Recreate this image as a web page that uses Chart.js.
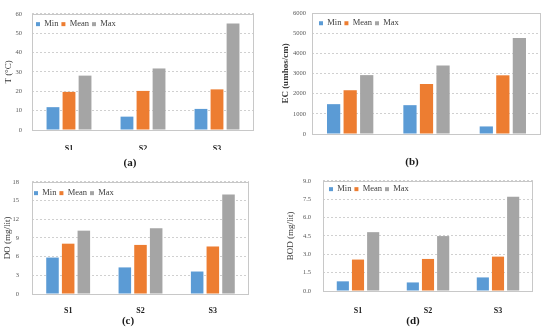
<!DOCTYPE html>
<html>
<head>
<meta charset="utf-8">
<script src="https://cdn.jsdelivr.net/npm/chart.js@4.4.1/dist/chart.umd.min.js"></script>
<style>
  body { margin: 0; background: #fff; width: 550px; height: 330px; position: relative; overflow: hidden; font-family: 'Liberation Serif', serif; }
  canvas { position: absolute; }
  .cap { position: absolute; width: 40px; margin-left: -20px; text-align: center; font-weight: bold; font-size: 11px; line-height: 12px; color: #1a1a1a; }
</style>
</head>
<body>
<canvas id="chart-a" width="275" height="150" style="left:0;top:0"></canvas>
<canvas id="chart-b" width="275" height="150" style="left:275px;top:0"></canvas>
<canvas id="chart-c" width="275" height="150" style="left:0;top:165px"></canvas>
<canvas id="chart-d" width="275" height="150" style="left:275px;top:165px"></canvas>
<div class="cap" style="left:130px;top:156px">(a)</div>
<div class="cap" style="left:412px;top:155px">(b)</div>
<div class="cap" style="left:128px;top:314px">(c)</div>
<div class="cap" style="left:413px;top:314px">(d)</div>
<script>
const sites = ['S1', 'S2', 'S3'];
const seriesNames = ['Min', 'Mean', 'Max'];
const seriesColors = ['#5b9bd5', '#ed7d31', '#a5a5a5'];

// (a) temperature
const tMin = [11.8, 6.9, 10.9];
const tMean = [19.7, 20.2, 21.0];
const tMax = [28.1, 31.8, 55.1];
// (b) EC
const ecMin = [1480, 1430, 375];
const ecMean = [2170, 2480, 2910];
const ecMax = [2920, 3400, 4765];
// (c) DO
const doMin = [5.85, 4.27, 3.61];
const doMean = [8.08, 7.88, 7.63];
const doMax = [10.17, 10.57, 15.97];
// (d) BOD
const bodMin = [0.79, 0.70, 1.11];
const bodMean = [2.57, 2.62, 2.81];
const bodMax = [4.81, 4.49, 7.70];

const FONT = "'Liberation Serif', 'Times New Roman', serif";

// keeps the legend inside the plot box and draws the grey frame
const panelFrame = {
  id: 'panelFrame',
  beforeLayout(chart) {
    const lg = chart.legend;
    if (lg && !lg._flat) {
      const fit = lg.fit;
      lg.fit = function () { fit.call(this); this.height = 0; };
      lg._flat = true;
    }
  },
  afterLayout(chart, args, o) {
    const lg = chart.legend, ca = chart.chartArea;
    lg.left = ca.left + o.legendX - 3;
    lg.top = ca.top + o.legendY - 3;
    lg.right = ca.right;
    lg.bottom = lg.top + 20;
    lg.height = 20;
  },
  afterDraw(chart) {
    const { ctx, chartArea: ca } = chart;
    ctx.save();
    ctx.strokeStyle = '#c8c8c8';
    ctx.lineWidth = 1;
    ctx.strokeRect(Math.round(ca.left) + 0.5, Math.round(ca.top) + 0.5, Math.round(ca.right - ca.left) - 1, Math.round(ca.bottom - ca.top));
    ctx.restore();
  }
};

function drawPanel(id, p) {
  new Chart(document.getElementById(id), {
    type: 'bar',
    data: {
      labels: sites,
      datasets: p.values.map((v, i) => ({
        label: seriesNames[i], data: v, backgroundColor: seriesColors[i],
        categoryPercentage: 0.65, barPercentage: 0.8
      }))
    },
    options: {
      responsive: false,
      animation: false,
      layout: { padding: { left: 0, right: 275 - p.area[1], top: p.area[2], bottom: 0 } },
      plugins: {
        tooltip: { enabled: false },
        legend: {
          position: 'top', align: 'start', fullSize: false,
          labels: { boxWidth: 4, boxHeight: 4, padding: 3, color: '#404040', font: { family: FONT, size: 8.5 } }
        },
        panelFrame: { legendX: p.legend[0], legendY: p.legend[1] }
      },
      scales: {
        x: {
          grid: { display: false },
          border: { display: false },
          ticks: { color: '#1a1a1a', padding: p.xPad, font: { family: FONT, size: 8, weight: 'bold' } },
          afterFit: s => { s.height = 150 - p.area[3]; }
        },
        y: {
          min: 0, max: p.yMax,
          grid: { color: '#d0d0d0', drawTicks: false },
          border: { display: false, dash: [2, 2] },
          ticks: {
            stepSize: p.yStep, padding: p.yPad, color: '#595959',
            font: { family: FONT, size: 6.5 },
            callback: v => p.decimals ? v.toFixed(p.decimals) : v
          },
          title: {
            display: true, text: p.yTitle, color: '#333',
            padding: { top: p.titlePad, bottom: 0 },
            font: { family: FONT, size: 9, weight: p.titleBold ? 'bold' : 'normal' }
          },
          afterFit: s => { s.width = p.area[0]; }
        }
      }
    },
    plugins: [panelFrame]
  });
}

drawPanel('chart-a', { values: [tMin, tMean, tMax], yMax: 60, yStep: 10, yTitle: 'T (°C)',
  area: [32, 254, 11, 130], legend: [4, 6], xPad: 6, yPad: 10, titlePad: 3 });
drawPanel('chart-b', { values: [ecMin, ecMean, ecMax], yMax: 6000, yStep: 1000, yTitle: 'EC (umhos/cm)', titleBold: true,
  area: [37, 266, 13, 134], legend: [7, 6], xPad: 7, yPad: 6, titlePad: 5 });
drawPanel('chart-c', { values: [doMin, doMean, doMax], yMax: 18, yStep: 3, yTitle: 'DO (mg/lit)',
  area: [32, 249, 11, 129], legend: [2, 7], xPad: 4, yPad: 13, titlePad: 2 });
drawPanel('chart-d', { values: [bodMin, bodMean, bodMax], yMax: 9, yStep: 1.5, decimals: 1, yTitle: 'BOD (mg/lit)',
  area: [48, 258, 15, 126], legend: [6, 4], xPad: 7, yPad: 12, titlePad: 10 });
</script>
</body>
</html>
